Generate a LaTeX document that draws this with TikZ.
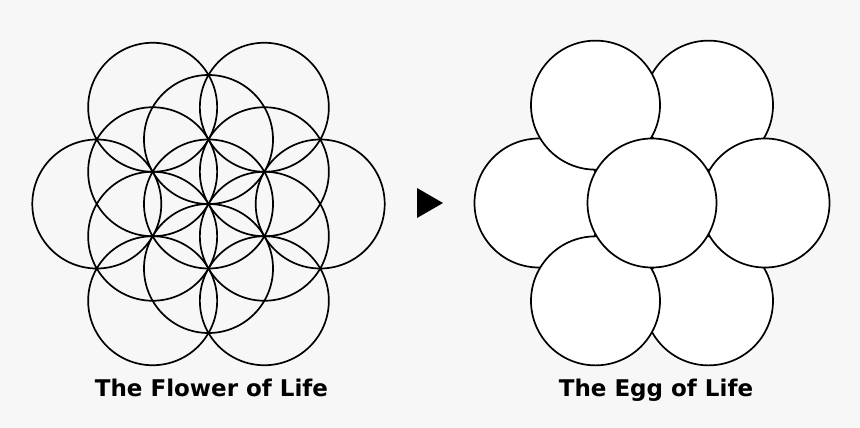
\documentclass[tikz,border=0pt]{standalone}
\usepackage{fontspec}
\setmainfont{DejaVu Sans}
\usetikzlibrary{calc}
\definecolor{bgc}{HTML}{F7F7F7}
\begin{document}
\begin{tikzpicture}[x=1pt,y=-1pt,
  ring/.style={draw=black,line width=1.7pt},
  eggring/.style={draw=black,fill=white,line width=1.7pt},
  caption/.style={anchor=base,font=\bfseries\fontsize{23}{27}\selectfont,text=black,inner sep=0pt}]
\fill[bgc] (0,0) rectangle (860,428);
\useasboundingbox (0,0) rectangle (860,428);
% Flower of Life
\def\R{64.5}
\coordinate (fc) at (208.5,204);
\draw[ring] (fc) circle[radius=\R];
\foreach \a in {30,90,150,210,270,330}{
  \draw[ring] ($(fc)+(\a:\R)$) circle[radius=\R];
}
\foreach \a in {0,60,120,180,240,300}{
  \draw[ring] ($(fc)+(\a:111.7)$) circle[radius=\R];
}
% Egg of Life
\coordinate (ec) at (652,203);
\foreach \a in {60,180,300,120,0,240}{
  \draw[eggring] ($(ec)+(\a:113)$) circle[radius=\R];
}
\draw[eggring] (ec) circle[radius=\R];
% arrow
\coordinate (t1) at (417,188);
\coordinate (t2) at (443,203);
\coordinate (t3) at (417,218);
\fill[black] (t1) -- (t2) -- (t3) -- cycle;
% captions
\node[caption] (flower) at (211.5,396) {The Flower of Life};
\node[caption] (egg) at (656,396) {The Egg of Life};
\end{tikzpicture}
\end{document}
